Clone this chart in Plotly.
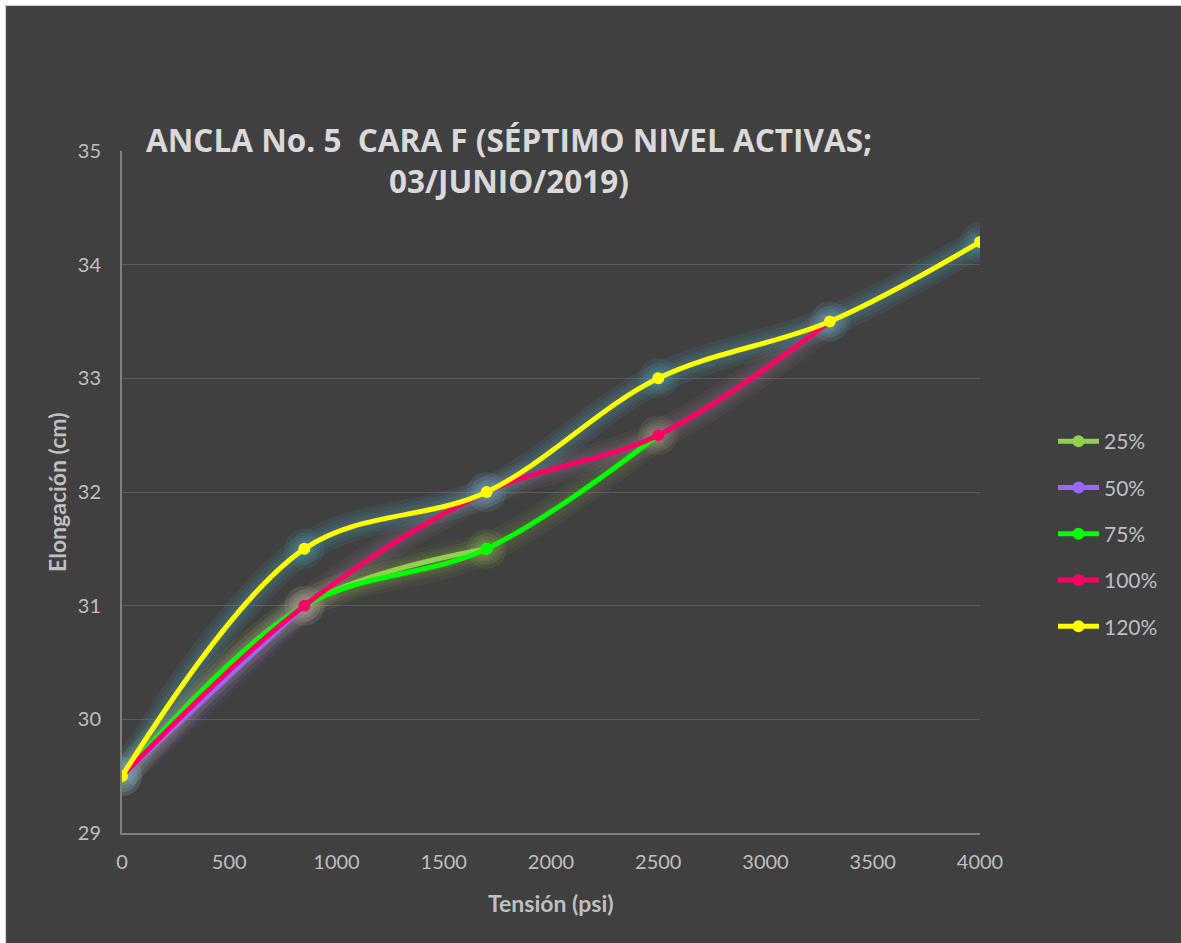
import plotly.graph_objects as go

# ---- data ----
tension = [0, 850, 1700, 2500, 3300, 4000]
series_names = ["25%", "50%", "75%", "100%", "120%"]
elong_25 = [29.5, 31.0, 31.5]
elong_50 = [29.5, 31.0]
elong_75 = [29.5, 31.0, 31.5, 32.5]
elong_100 = [29.5, 31.0, 32.0, 32.5, 33.5]
elong_120 = [29.5, 31.5, 32.0, 33.0, 33.5, 34.2]
x_ticks = [0, 500, 1000, 1500, 2000, 2500, 3000, 3500, 4000]
y_ticks = [29, 30, 31, 32, 33, 34, 35]

colors = ["#92D050", "#9966FF", "#00FF00", "#FF0066", "#FFFF00"]
glow_rgb = ["146,208,80", "153,102,255", "150,190,90", "210,150,180", "75,172,198"]
glow_alpha = [0.055, 0.055, 0.06, 0.06, 0.09]
values = [elong_25, elong_50, elong_75, elong_100, elong_120]

# figure placed at page offset (5, 5)
OX, OY = 5, 5
W, H = 1176, 938
L, R, T, B = 122 - OX, W - (980 - OX), 151 - OY, H - (833 - OY)
PW, PH = W - L - R, H - T - B


def px_x(p):
    return (p - OX - L) / PW


def px_y(p):
    return (H - B - (p - OY)) / PH


fig = go.Figure()

# soft glow underlays (layered translucent strokes)
for vals, rgb, a in zip(values, glow_rgb, glow_alpha):
    xs = tension[:len(vals)]
    for w in (30, 22, 15, 9):
        col = f"rgba({rgb},{a})"
        fig.add_trace(go.Scatter(
            x=xs, y=vals, mode="lines+markers", showlegend=False, hoverinfo="skip",
            line=dict(color=col, width=w, shape="spline", smoothing=1.0),
            marker=dict(color=col, size=w + 10),
        ))

# main series
for name, vals, c in zip(series_names, values, colors):
    xs = tension[:len(vals)]
    fig.add_trace(go.Scatter(
        x=xs, y=vals, mode="lines+markers", name=name, legendgroup=name,
        line=dict(color=c, width=5, shape="spline", smoothing=1.0),
        marker=dict(color=c, size=12),
    ))

font_family = "Lato, 'Open Sans', sans-serif"
tick_color = "#BFBFBF"

fig.update_layout(
    width=W, height=H,
    paper_bgcolor="#404040",
    plot_bgcolor="rgba(0,0,0,0)",
    margin=dict(l=L, r=R, t=T, b=B),
    showlegend=True,
    legend=dict(
        x=px_x(1053), xref="paper", y=px_y(534), yanchor="middle", xanchor="left",
        font=dict(family=font_family, size=21, color=tick_color),
        bgcolor="rgba(0,0,0,0)", tracegroupgap=16, itemwidth=41,
    ),
    font=dict(family=font_family, color=tick_color),
    shapes=[
        dict(type="line", xref="paper", yref="paper", layer="above",
             x0=px_x(OX + 0.5), x1=px_x(OX + W), y0=px_y(OY + 0.5), y1=px_y(OY + 0.5),
             line=dict(color="#D0D0D0", width=1.2)),
        dict(type="line", xref="paper", yref="paper", layer="above",
             x0=px_x(OX + 0.5), x1=px_x(OX + 0.5), y0=px_y(OY + 0.5), y1=px_y(OY + H),
             line=dict(color="#D0D0D0", width=1.2)),
    ],
    annotations=[
        dict(text="<b>ANCLA No. 5  CARA F (SÉPTIMO NIVEL ACTIVAS;<br>03/JUNIO/2019)</b>",
             xref="paper", yref="paper", x=px_x(509), y=px_y(116),
             xanchor="center", yanchor="top", showarrow=False,
             font=dict(family="'Open Sans', Lato, sans-serif", size=31.5, color="#D9D9D9")),
        dict(text="<b>Tensión (psi)</b>", xref="paper", yref="paper",
             x=0.5, y=px_y(903), xanchor="center", yanchor="middle",
             showarrow=False, font=dict(family=font_family, size=23, color=tick_color)),
        dict(text="<b>Elongación (cm)</b>", xref="paper", yref="paper",
             x=px_x(57), y=0.5, xanchor="center", yanchor="middle", textangle=-90,
             showarrow=False, font=dict(family=font_family, size=23, color=tick_color)),
    ],
)

fig.update_xaxes(
    range=[0, 4000], tickvals=x_ticks, ticktext=[str(v) for v in x_ticks],
    showgrid=False, zeroline=False, showline=True, linecolor="#7F7F7F", linewidth=2,
    ticks="", ticklabelstandoff=10,
    tickfont=dict(family=font_family, size=20, color=tick_color),
)
fig.update_yaxes(
    range=[29, 35], tickvals=y_ticks, ticktext=[str(v) for v in y_ticks],
    showgrid=True, gridcolor="#5A5A5A", gridwidth=1, zeroline=False,
    showline=True, linecolor="#7F7F7F", linewidth=2,
    ticks="", ticklabelstandoff=15,
    tickfont=dict(family=font_family, size=20, color=tick_color),
)

fig.write_html(
    "out.html",
    post_script="document.body.style.margin='5px 0 0 5px';document.body.style.overflow='hidden';",
)
